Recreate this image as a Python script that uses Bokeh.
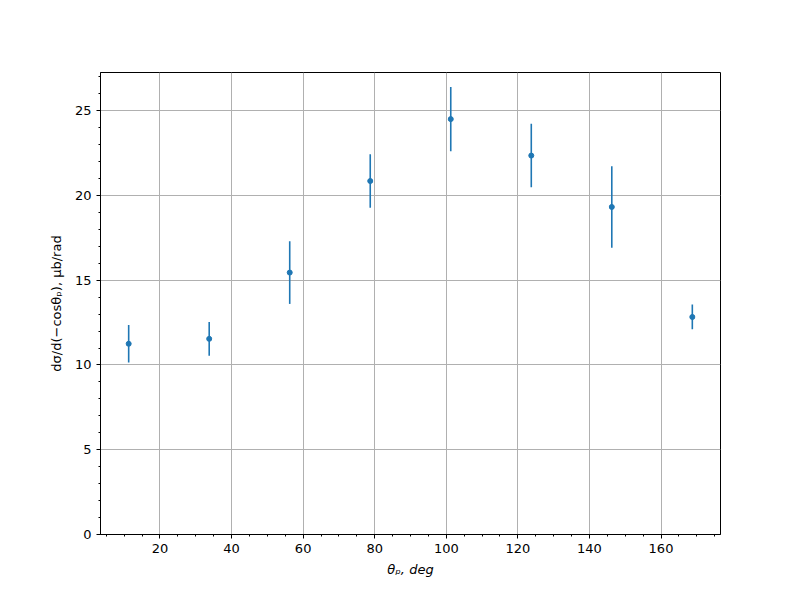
from bokeh.plotting import figure
from bokeh.models import Range1d, SingleIntervalTicker, ColumnDataSource
from bokeh.embed import file_html
from bokeh.resources import INLINE

theta = [11.25, 33.75, 56.25, 78.75, 101.25, 123.75, 146.25, 168.75]
xsec = [11.25, 11.54, 15.45, 20.85, 24.5, 22.35, 19.32, 12.83]
err = [1.1, 1.0, 1.85, 1.58, 1.9, 1.87, 2.4, 0.73]

lower = [v - e for v, e in zip(xsec, err)]
upper = [v + e for v, e in zip(xsec, err)]
src = ColumnDataSource(dict(x=theta, y=xsec, lo=lower, hi=upper))

p = figure(width=784, height=584, output_backend="svg", toolbar_location=None,
           x_range=Range1d(3.375, 176.625), y_range=Range1d(0, 27.25),
           min_border_left=100, min_border_right=64, min_border_top=72, min_border_bottom=50)

p.segment(x0="x", y0="lo", x1="x", y1="hi", source=src, line_color="#1f77b4", line_width=1.6)
p.scatter(x="x", y="y", source=src, size=5, fill_color="#1f77b4", line_color="#1f77b4")

p.xaxis.ticker = SingleIntervalTicker(interval=20, num_minor_ticks=4)
p.yaxis.ticker = SingleIntervalTicker(interval=5, num_minor_ticks=5)

for ax in (p.xaxis, p.yaxis):
    ax.major_tick_in = 0
    ax.major_tick_out = 4
    ax.minor_tick_in = 0
    ax.minor_tick_out = 2
    ax.axis_line_color = "black"
    ax.major_tick_line_color = "black"
    ax.minor_tick_line_color = "black"
    ax.major_label_text_font = "DejaVu Sans"
    ax.major_label_text_font_size = "13px"
    ax.major_label_text_color = "black"
    ax.axis_label_text_font = "DejaVu Sans"
    ax.axis_label_text_font_size = "13px"
    ax.axis_label_text_color = "black"

p.xaxis.axis_label = "θₚ, deg"
p.xaxis.axis_label_text_font_style = "italic"
p.yaxis.axis_label = "dσ/d(−cosθₚ), μb/rad"
p.yaxis.axis_label_text_font_style = "normal"
p.xaxis.axis_label_standoff = 6
p.yaxis.axis_label_standoff = 8
p.xaxis.major_label_standoff = 5
p.yaxis.major_label_standoff = 5

p.grid.grid_line_color = "#b0b0b0"
p.grid.grid_line_width = 1

p.outline_line_color = "black"
p.outline_line_width = 1
p.outline_line_alpha = 1

open("out.html", "w").write(file_html(p, INLINE))
